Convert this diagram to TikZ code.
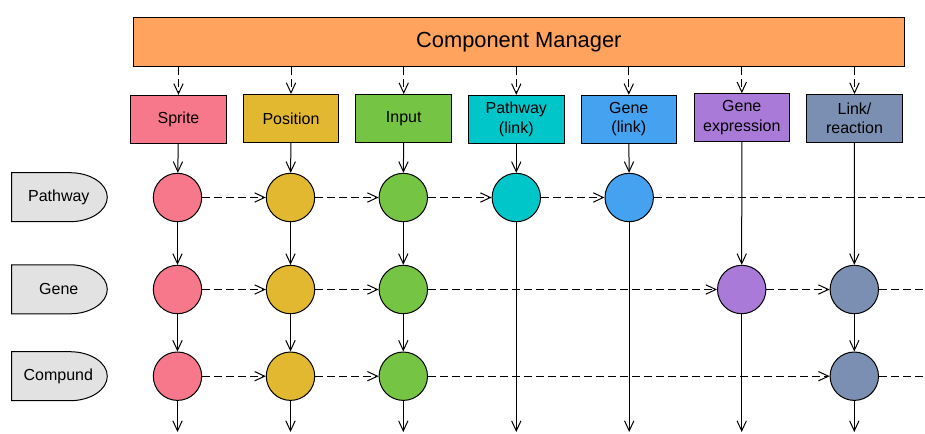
\documentclass[tikz,border=0pt]{standalone}
\usepackage{fontspec}
\setmainfont{Liberation Sans}
\usetikzlibrary{arrows.meta}

\definecolor{mgrorange}{HTML}{FFA35E}
\definecolor{spritecol}{HTML}{F7788A}
\definecolor{poscol}{HTML}{E2B830}
\definecolor{inputcol}{HTML}{76C443}
\definecolor{pwlinkcol}{HTML}{00C6C9}
\definecolor{genelinkcol}{HTML}{45A2F0}
\definecolor{exprcol}{HTML}{A97AD8}
\definecolor{reactcol}{HTML}{7B8FB2}
\definecolor{lblgray}{HTML}{E2E2E2}

\tikzset{every picture/.style={line width=0.75pt}}
\tikzset{
  comp/.style={draw, minimum width=71.6pt, minimum height=36pt, inner sep=0.75pt, align=center, font=\fontsize{12}{14.5}\selectfont},
  ent/.style={draw, circle, minimum size=36.3pt, inner sep=0pt},
  rowlbl/.style={inner sep=0.75pt, font=\fontsize{12}{14.5}\selectfont},
  flow/.style={-{Straight Barb[length=7.5pt,width=7pt]}},
  link/.style={flow, dash pattern={on 6pt off 3pt}},
  dashline/.style={dash pattern={on 6pt off 3pt}}
}

\begin{document}
\begin{tikzpicture}[x=0.75pt,y=0.75pt,yscale=-1,xscale=1]
    \path[use as bounding box] (0,0) rectangle (925,433);

    % manager
    \node[draw, fill=mgrorange, minimum width=578.3pt, minimum height=37pt, font=\fontsize{16.4}{20}\selectfont] (mgr) at (518.8,41.9) {Component Manager};

    % components
    \node[comp, fill=spritecol] (sprite) at (178.5,119.3) {Sprite};
    \node[comp, fill=poscol] (position) at (291,118.5) {Position};
    \node[comp, fill=inputcol] (input) at (403.7,118.5) {Input};
    \node[comp, fill=pwlinkcol] (pwlink) at (516.3,119.3) {Pathway\\(link)};
    \node[comp, fill=genelinkcol] (genelink) at (628.8,119.3) {Gene\\(link)};
    \node[comp, fill=exprcol] (geneexpr) at (741.8,117.7) {Gene\\expression};
    \node[comp, fill=reactcol] (linkreact) at (854.5,118.5) {Link/\\reaction};

    % row labels
    \draw[fill=lblgray] (11.7,172.7) -- (70,172.7) .. controls (90.6,172.7) and (107.3,183.7) .. (107.3,197.2) .. controls (107.3,210.7) and (90.6,221.7) .. (70,221.7) -- (11.7,221.7) -- cycle;
    \draw[fill=lblgray] (11.7,264.8) -- (70,264.8) .. controls (90.6,264.8) and (107.3,275.8) .. (107.3,289.3) .. controls (107.3,302.8) and (90.6,313.8) .. (70,313.8) -- (11.7,313.8) -- cycle;
    \draw[fill=lblgray] (11.7,351.7) -- (70,351.7) .. controls (90.6,351.7) and (107.3,362.7) .. (107.3,376.2) .. controls (107.3,389.7) and (90.6,400.7) .. (70,400.7) -- (11.7,400.7) -- cycle;
    \node[rowlbl] (pathway) at (58.8,197.2) {Pathway};
    \node[rowlbl] (gene) at (58.8,289.3) {Gene};
    \node[rowlbl] (compund) at (58.3,376.2) {Compund};

    % entities, pathway row
    \node[ent, fill=spritecol] (p1) at (177.5,197.5) {};
    \node[ent, fill=poscol] (p2) at (290.5,197.5) {};
    \node[ent, fill=inputcol] (p3) at (403.3,197.5) {};
    \node[ent, fill=pwlinkcol] (p4) at (516.3,197.5) {};
    \node[ent, fill=genelinkcol] (p5) at (629.2,197.5) {};
    % gene row
    \node[ent, fill=spritecol] (g1) at (177.5,289.5) {};
    \node[ent, fill=poscol] (g2) at (290.5,289.5) {};
    \node[ent, fill=inputcol] (g3) at (403.3,289.5) {};
    \node[ent, fill=exprcol] (g6) at (741.7,289.5) {};
    \node[ent, fill=reactcol] (g7) at (854.3,289.5) {};
    % compund row
    \node[ent, fill=spritecol] (c1) at (177.5,376.2) {};
    \node[ent, fill=poscol] (c2) at (290.5,376.2) {};
    \node[ent, fill=inputcol] (c3) at (403.3,376.2) {};
    \node[ent, fill=reactcol] (c7) at (854.3,376.2) {};

    % loose ends
    \coordinate (pend) at (925,197.5);
    \coordinate (gend) at (925,289.5);
    \coordinate (cend) at (925,376.2);
    \coordinate (bot1) at (177.5,432);
    \coordinate (bot2) at (290.5,432);
    \coordinate (bot3) at (403.3,432);
    \coordinate (bot4) at (516.3,432);
    \coordinate (bot5) at (629.2,432);
    \coordinate (bot6) at (741.7,432);
    \coordinate (bot7) at (854.3,432);

    % manager to components
    \draw[link] (mgr.south -| sprite.north) -- (sprite.north);
    \draw[link] (mgr.south -| position.north) -- (position.north);
    \draw[link] (mgr.south -| input.north) -- (input.north);
    \draw[link] (mgr.south -| pwlink.north) -- (pwlink.north);
    \draw[link] (mgr.south -| genelink.north) -- (genelink.north);
    \draw[link] (mgr.south -| geneexpr.north) -- (geneexpr.north);
    \draw[link] (mgr.south -| linkreact.north) -- (linkreact.north);

    % columns
    \draw[flow] (sprite) -- (p1);
    \draw[flow] (p1) -- (g1);
    \draw[flow] (g1) -- (c1);
    \draw[flow] (c1) -- (bot1);
    \draw[flow] (position) -- (p2);
    \draw[flow] (p2) -- (g2);
    \draw[flow] (g2) -- (c2);
    \draw[flow] (c2) -- (bot2);
    \draw[flow] (input) -- (p3);
    \draw[flow] (p3) -- (g3);
    \draw[flow] (g3) -- (c3);
    \draw[flow] (c3) -- (bot3);
    \draw[flow] (pwlink) -- (p4);
    \draw[flow] (p4) -- (bot4);
    \draw[flow] (genelink) -- (p5);
    \draw[flow] (p5) -- (bot5);
    \draw[flow] (geneexpr) -- (g6);
    \draw[flow] (g6) -- (bot6);
    \draw[flow] (linkreact) -- (g7);
    \draw[flow] (g7) -- (c7);
    \draw[flow] (c7) -- (bot7);

    % rows
    \draw[link] (p1) -- (p2);
    \draw[link] (p2) -- (p3);
    \draw[link] (p3) -- (p4);
    \draw[link] (p4) -- (p5);
    \draw[dashline] (p5) -- (pend);
    \draw[link] (g1) -- (g2);
    \draw[link] (g2) -- (g3);
    \draw[link] (g3) -- (g6);
    \draw[link] (g6) -- (g7);
    \draw[dashline] (g7) -- (gend);
    \draw[link] (c1) -- (c2);
    \draw[link] (c2) -- (c3);
    \draw[link] (c3) -- (c7);
    \draw[dashline] (c7) -- (cend);

\end{tikzpicture}
\end{document}
